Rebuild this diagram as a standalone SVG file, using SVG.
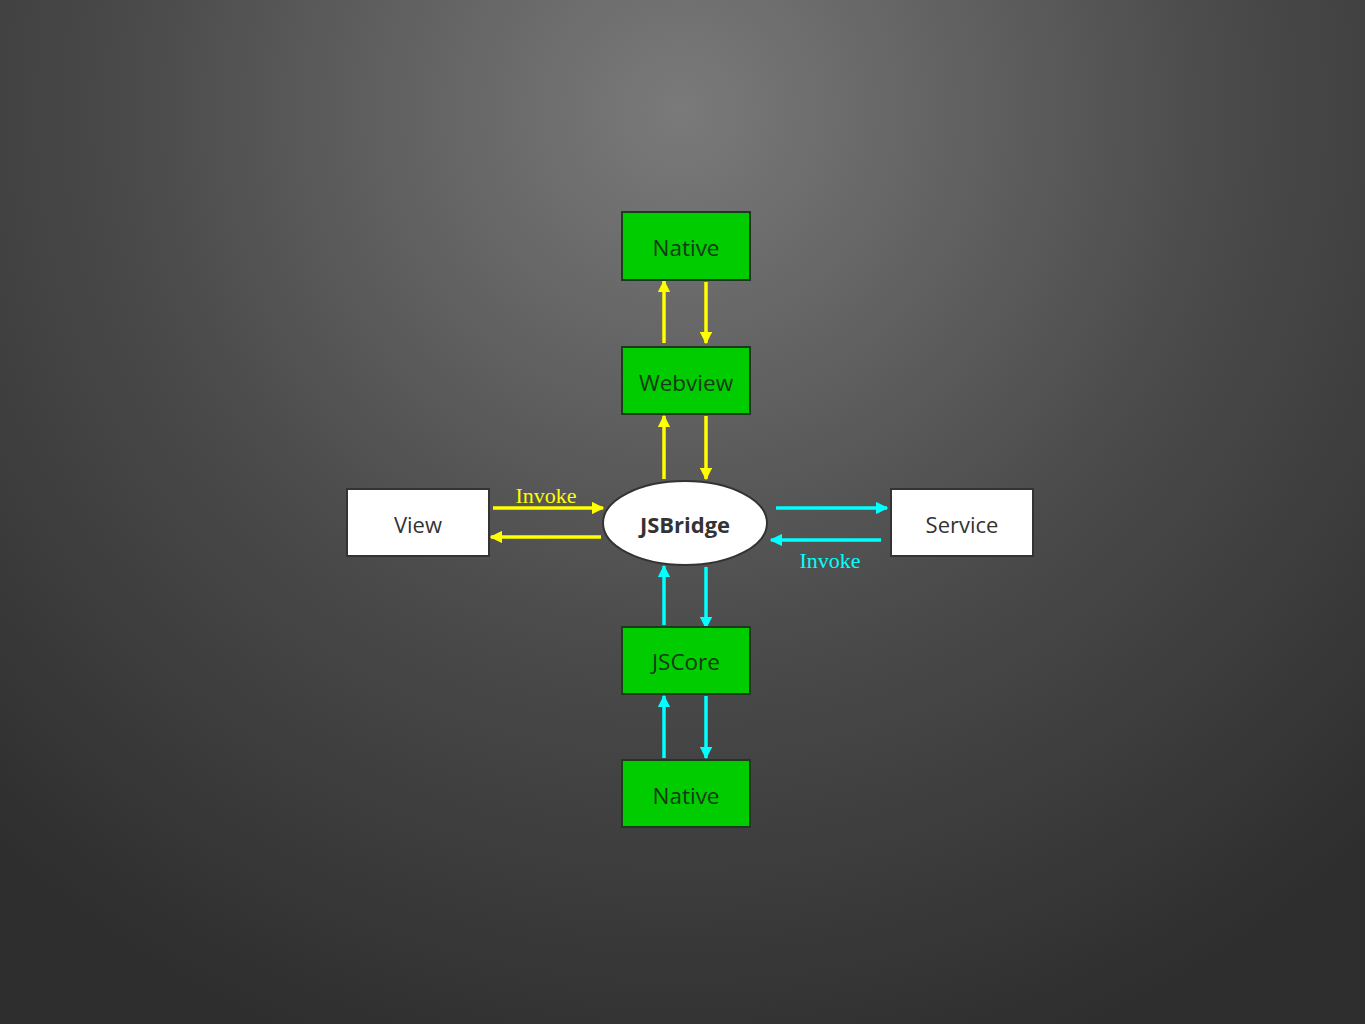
<svg xmlns="http://www.w3.org/2000/svg" width="1365" height="1024" viewBox="0 0 1365 1024">
<defs>
<radialGradient id="bg" gradientUnits="userSpaceOnUse" cx="680" cy="110" r="1000">
<stop offset="0" stop-color="#7a7a7a"/>
<stop offset="0.55" stop-color="#4a4a4a"/>
<stop offset="1" stop-color="#2e2e2e"/>
</radialGradient>
<marker id="ay" viewBox="0 0 10 10" refX="9" refY="5" markerWidth="3.6" markerHeight="3.6" orient="auto" markerUnits="strokeWidth">
<path d="M0,0 L10,5 L0,10 z" fill="#ffff00"/>
</marker>
<marker id="ac" viewBox="0 0 10 10" refX="9" refY="5" markerWidth="3.6" markerHeight="3.6" orient="auto" markerUnits="strokeWidth">
<path d="M0,0 L10,5 L0,10 z" fill="#00ffff"/>
</marker>
<style>
.g{fill:#00cc00;stroke:#1e3a1e;stroke-width:2}
.w{fill:#ffffff;stroke:#333333;stroke-width:2}
.gt{font-family:"Open Sans","Noto Sans","Liberation Sans",sans-serif;font-size:22.5px;fill:#163a16;text-anchor:middle;dominant-baseline:central}
.wt{font-family:"Open Sans","Noto Sans","Liberation Sans",sans-serif;font-size:22px;fill:#333333;text-anchor:middle;dominant-baseline:central}
.y{stroke:#ffff00;stroke-width:3.5;fill:none;marker-end:url(#ay)}
.c{stroke:#00ffff;stroke-width:3.5;fill:none;marker-end:url(#ac)}
.lbl{font-family:"Liberation Serif","DejaVu Serif",serif;font-size:22px;text-anchor:middle}
</style>
</defs>
<rect width="1365" height="1024" fill="url(#bg)"/>
<g id="connectors">
<line class="y" x1="664" y1="343" x2="664" y2="281"/>
<line class="y" x1="706" y1="282" x2="706" y2="343"/>
<line class="y" x1="664" y1="479" x2="664" y2="416"/>
<line class="y" x1="706" y1="416" x2="706" y2="479"/>
<line class="y" x1="493" y1="508" x2="603" y2="508"/>
<line class="y" x1="601" y1="537" x2="491" y2="537"/>
<line class="c" x1="776" y1="508" x2="887" y2="508"/>
<line class="c" x1="881" y1="540" x2="771" y2="540"/>
<line class="c" x1="664" y1="625" x2="664" y2="566"/>
<line class="c" x1="706" y1="567" x2="706" y2="628"/>
<line class="c" x1="664" y1="758" x2="664" y2="696"/>
<line class="c" x1="706" y1="696" x2="706" y2="758"/>
<text class="lbl" x="546" y="503" fill="#ffff00">Invoke</text>
<text class="lbl" x="830" y="568" fill="#00ffff">Invoke</text>
</g>
<g id="native-top"><rect class="g" x="622" y="212" width="128" height="68"/><text class="gt" x="686" y="247">Native</text></g>
<g id="webview"><rect class="g" x="622" y="347" width="128" height="67"/><text class="gt" x="686" y="382">Webview</text></g>
<g id="jsbridge"><ellipse cx="685" cy="523" rx="82" ry="42" fill="#ffffff" stroke="#333333" stroke-width="2"/><text class="wt" x="685" y="524" font-weight="bold">JSBridge</text></g>
<g id="view"><rect class="w" x="347" y="489" width="142" height="67"/><text class="wt" x="418" y="524">View</text></g>
<g id="service"><rect class="w" x="891" y="489" width="142" height="67"/><text class="wt" x="962" y="524">Service</text></g>
<g id="jscore"><rect class="g" x="622" y="627" width="128" height="67"/><text class="gt" x="686" y="661">JSCore</text></g>
<g id="native-bottom"><rect class="g" x="622" y="760" width="128" height="67"/><text class="gt" x="686" y="795">Native</text></g>
</svg>
